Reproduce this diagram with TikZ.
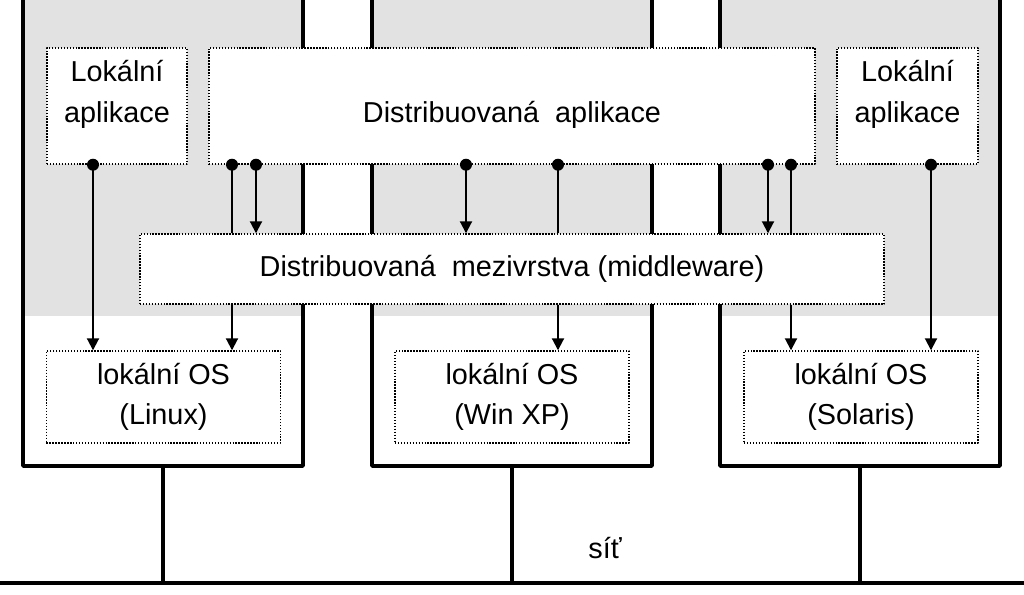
\documentclass[tikz,border=0pt]{standalone}
\usepackage{fontspec}
\setmainfont{Liberation Sans}
\usetikzlibrary{arrows.meta}
\definecolor{grain}{RGB}{226,226,226}
\begin{document}
\begin{tikzpicture}[x=0.025cm,y=-0.025cm,line join=round,>={Triangle[length=0.3cm,width=0.3cm]},
	font=\fontsize{20.5}{28.5}\selectfont,
	pc/.style={draw,line width=2.4pt,minimum width=7cm,minimum height=12.15cm,inner sep=0pt},
	sw/.style={draw,fill=white,line width=1pt,dash pattern=on 1pt off 1.1pt,inner sep=0pt,align=center},
	app/.style={sw,minimum height=2.9cm,text height=0.95cm,text depth=0.15cm},
	flow/.style={line width=1.4pt},
	netline/.style={line width=2.6pt}]
	\useasboundingbox (0,0) rectangle (1024,594);
	\clip (0,0) rectangle (1024,594);
	% pocitace
	\foreach \n/\x in {m1/163,m2/512,m3/860}{
		\fill[grain] (\x-140,-20) rectangle (\x+140,316);
		\node[pc] (\n) at (\x,223) {};
	}
	% sit
	\coordinate (netL) at (0,583);
	\coordinate (netR) at (1024,583);
	\draw[netline] (netL) -- (netR);
	\foreach \n in {m1,m2,m3} \draw[netline] (\n.south) -- (\n.south |- netL);
	\node (sit) at (605,548) {síť};
	% vrstvy
	\node[app,minimum width=3.5cm] (la1) at (117,106) {Lokální\\aplikace};
	\node[app,minimum width=15.15cm] (da) at (512,106) {Distribuovaná\ \ aplikace};
	\node[app,minimum width=3.525cm] (la3) at (907.5,106) {Lokální\\aplikace};
	\node[sw,minimum width=18.6cm,minimum height=1.75cm] (mw) at (512,269) {Distribuovaná\ \ mezivrstva (middleware)};
	\node[sw,minimum width=5.85cm,minimum height=2.3cm] (os1) at (163.5,397) {lokální OS\\(Linux)};
	\node[sw,minimum width=5.85cm,minimum height=2.3cm] (os2) at (512,397) {lokální OS\\(Win XP)};
	\node[sw,minimum width=5.85cm,minimum height=2.3cm] (os3) at (861,397) {lokální OS\\(Solaris)};
	% volani
	\foreach \x in {256,466,768} \draw[flow,->] (da.south -| \x,0) -- (mw.north -| \x,0);
	\foreach \x in {232,558,791} \draw[flow] (da.south -| \x,0) -- (mw.north -| \x,0);
	\foreach \x/\os in {232/os1,558/os2,791/os3} \draw[flow,->] (mw.south -| \x,0) -- (\os.north -| \x,0);
	\draw[flow,->] (la1.south -| 93,0) -- (os1.north -| 93,0);
	\draw[flow,->] (la3.south -| 931,0) -- (os3.north -| 931,0);
	\foreach \x in {232,256,466,558,768,791} \fill (da.south -| \x,0) circle (0.15cm);
	\fill (la1.south -| 93,0) circle (0.15cm) (la3.south -| 931,0) circle (0.15cm);
\end{tikzpicture}
\end{document}
